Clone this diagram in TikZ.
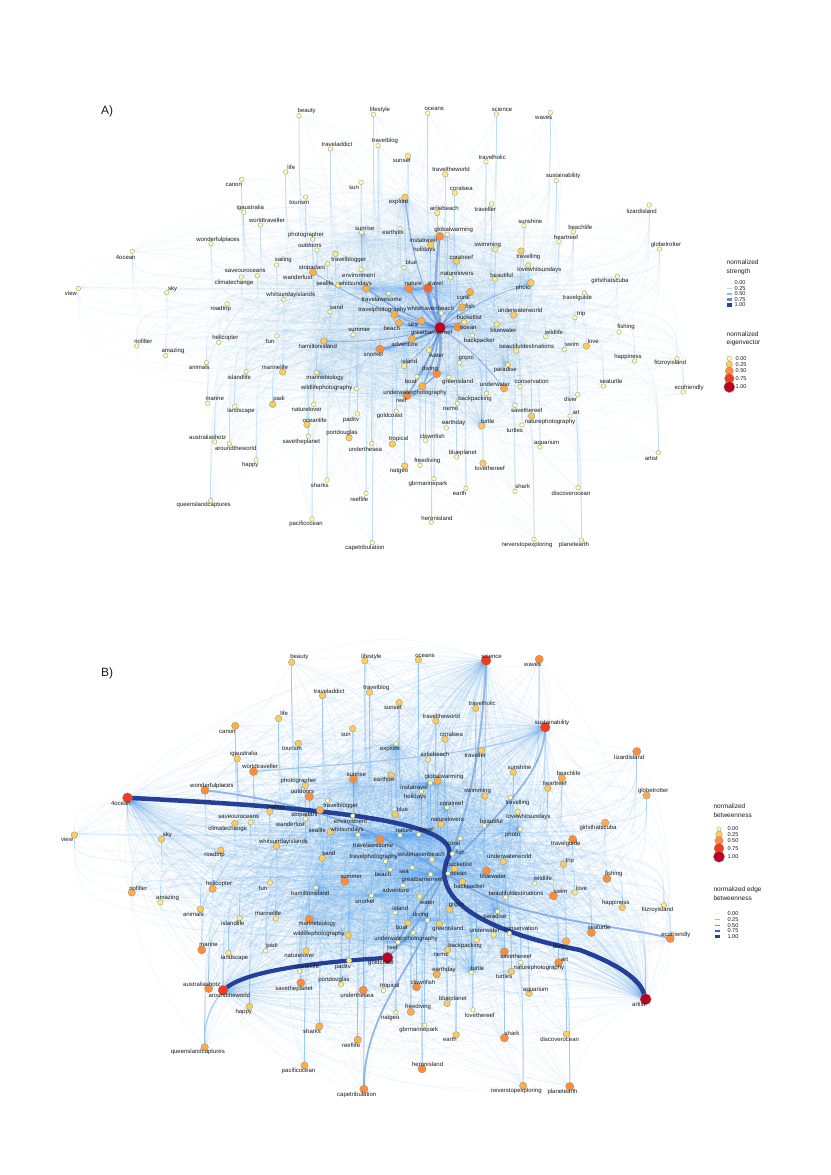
\documentclass[tikz,border=0pt]{standalone}
\usepackage{fontspec}
\setmainfont{Liberation Sans}
\usetikzlibrary{calc}
\pgfdeclarelayer{back}
\pgfdeclarelayer{bg}
\pgfdeclarelayer{mid}
\pgfsetlayers{back,bg,mid,main}
\definecolor{c0}{HTML}{FFFFB2}
\definecolor{c1}{HTML}{FEE98A}
\definecolor{c2}{HTML}{FECC5C}
\definecolor{c3}{HTML}{FDAD4A}
\definecolor{c4}{HTML}{FD8D3C}
\definecolor{c5}{HTML}{F6642E}
\definecolor{c6}{HTML}{F03B20}
\definecolor{c7}{HTML}{BD0026}
\definecolor{nodeline}{HTML}{8F8F78}
\definecolor{hazeblue}{HTML}{5AA8F0}
\definecolor{strongA}{HTML}{4A7FD6}
\definecolor{eb1}{HTML}{93C1F0}
\definecolor{eb2}{HTML}{6A9AE0}
\definecolor{eb3}{HTML}{3E64BE}
\definecolor{eb4}{HTML}{243F98}
\definecolor{txt}{HTML}{1C1C1C}

\def\nodelist{beauty/299.0/115.7/306.7/110.7/0/2,
lifestyle/373.3/114.3/380.0/110.0/0/2,
oceans/427.7/113.3/434.3/109.0/0/2,
science/496.3/114.0/502.0/109.7/0/6,
waves/550.3/112.7/543.7/118.3/0/4,
traveladdict/330.3/149.0/337.0/144.7/0/2,
travelblog/378.0/145.7/385.0/141.0/0/2,
sunset/408.0/156.0/401.7/161.0/1/2,
travelholic/486.0/161.7/492.3/157.3/0/2,
traveltheworld/445.3/174.3/451.0/169.7/1/2,
life/285.7/172.0/291.3/167.3/0/2,
canon/241.7/179.3/233.7/185.0/0/3,
sun/361.0/182.3/354.0/188.0/0/2,
tourism/305.7/197.0/299.3/202.0/0/2,
sustainability/556.3/180.7/563.3/176.3/0/6,
coralsea/454.7/192.7/461.3/188.3/1/2,
explore/405.0/197.3/398.7/202.3/2/0,
airliebeach/437.3/213.0/444.3/208.3/1/1,
traveller/491.7/204.0/485.3/209.3/0/2,
igaustralia/243.7/212.3/250.3/207.7/0/2,
worldtraveller/260.3/225.0/267.0/220.3/0/4,
lizardisland/649.3/205.0/641.7/211.0/0/4,
sunrise/361.7/232.3/364.7/228.0/0/4,
photographer/312.7/239.0/306.0/234.7/0/2,
earthpix/400.0/228.7/393.0/233.3/0/2,
sunshine/524.0/225.7/530.3/221.0/0/2,
beachlife/573.3/231.7/580.3/227.3/0/3,
globalwarming/447.3/234.3/453.7/230.3/0/3,
instatravel/439.7/236.3/423.3/240.7/4/0,
holidays/430.7/245.0/424.3/250.3/2/0,
heartreef/559.0/241.7/566.0/237.3/0/2,
wonderfulplaces/211.0/243.7/218.0/239.7/0/4,
outdoors/317.0/250.0/310.0/245.3/0/4,
4ocean/132.3/251.3/125.7/257.0/0/6,
travelblogger/335.3/254.0/348.7/259.7/1/0,
globetrotter/659.3/249.0/666.0/244.7/0/3,
swimming/495.3/249.3/487.7/244.7/1/2,
travelling/521.0/251.0/528.3/256.7/2/0,
sailing/276.7/265.0/283.3/260.0/0/2,
coralreef/456.7/261.0/461.3/257.0/2/0,
stopadani/327.7/263.7/312.0/268.0/0/3,
wanderlust/313.0/272.3/297.7/277.7/3/0,
environment/361.0/269.3/358.7/275.3/0/0,
blue/404.0/267.7/411.3/262.7/0/2,
lovewhitsundays/528.3/265.3/539.3/270.0/1/1,
naturelovers/450.7/277.7/457.0/273.3/0/2,
beautiful/494.7/279.3/501.7/275.3/1/0,
girlsthatscuba/617.3/276.3/610.0/281.0/0/3,
saveouroceans/257.3/275.7/245.3/270.7/0/1,
climatechange/241.3/277.0/234.0/282.7/0/2,
sealife/338.3/285.3/325.0/283.7/1/2,
whitsundays/366.3/288.3/355.3/283.7/3/0,
view/78.3/288.5/71.0/293.3/0/2,
sky/166.7/292.7/172.7/288.7/0/2,
nature/409.0/288.7/413.3/284.0/4/0,
travel/428.0/288.0/435.7/283.0/5/0,
photo/531.0/282.7/523.3/288.0/2/0,
coral/470.0/292.0/463.3/297.0/3/0,
travelguide/584.3/293.0/577.3/297.7/0/4,
whitsundayislands/283.7/299.7/290.7/295.3/0/2,
travelawesome/388.7/293.3/381.7/299.3/0/4,
roadtrip/227.0/304.0/220.7/308.7/0/2,
sand/330.0/311.7/336.7/307.0/0/2,
travelphotography/394.3/314.7/382.3/310.3/3/0,
whitehavenbeach/441.3/313.0/430.7/308.3/0/1,
fish/462.0/307.3/470.0/306.3/3/0,
underwaterworld/513.7/315.0/520.0/310.3/2/2,
trip/575.0/317.7/581.3/314.0/0/2,
bucketlist/464.3/322.3/469.3/317.7/1/2,
greatbarrierreef/440.0/327.7/431.7/333.3/7/0,
ocean/457.7/327.0/468.3/327.7/4/0,
sea/421.3/321.0/413.0/325.0/3/0,
beach/399.0/323.0/391.7/328.3/3/0,
bluewater/496.7/324.3/503.3/330.0/1/4,
wildlife/545.7/336.7/554.0/332.0/0/0,
summer/353.0/334.7/359.3/330.0/0/4,
backpacker/472.3/335.3/479.3/340.7/0/2,
adventure/412.0/339.0/404.7/344.0/3/0,
hamiltonisland/323.7/341.0/317.7/346.7/2/0,
snorkel/380.0/349.0/373.3/354.7/4/0,
beautifuldestinations/516.3/350.7/526.7/346.7/1/0,
water/429.0/350.0/436.7/356.0/1/1,
gopro/459.3/362.7/466.3/358.7/0/2,
island/404.0/366.0/409.3/361.7/1/0,
paradise/508.0/365.0/505.3/370.3/1/0,
diving/436.7/373.7/430.0/368.7/4/0,
marinebiology/316.7/372.7/325.0/377.7/0/4,
boat/417.0/376.7/410.7/381.0/0/2,
greenisland/449.0/377.3/457.7/382.3/0/2,
underwater/504.0/388.3/495.0/384.3/3/1,
conservation/520.0/386.7/531.7/381.7/0/0,
underwaterphotography/422.3/386.3/415.0/392.7/3/0,
wildlifephotography/356.3/388.7/326.7/387.7/0/2,
reef/407.0/395.7/401.3/400.7/4/0,
backpacking/486.7/393.3/475.0/399.3/0/1,
nemo/457.5/403.3/450.7/408.7/0/2,
naturelover/313.7/404.3/306.7/409.3/0/2,
savethereef/515.0/405.3/526.7/410.3/0/4,
paditv/357.3/414.0/351.0/420.3/0/1,
goldcoast/396.3/411.3/389.7/416.3/0/7,
oceanlife/307.0/424.5/314.7/420.0/2/0,
diver/577.7/394.7/570.7/399.7/0/3,
art/570.0/416.0/576.0/412.7/0/4,
naturephotography/531.7/416.0/550.0/421.5/2/0,
earthday/446.3/428.0/453.7/423.3/0/3,
turtle/481.7/426.0/487.7/421.7/2/0,
nofilter/136.7/346.0/143.3/341.7/0/3,
amazing/165.7/355.7/173.0/351.0/0/1,
helicopter/218.7/342.3/225.3/337.7/0/3,
fun/277.0/336.0/270.0/341.7/0/1,
animals/206.3/362.7/199.3/367.7/0/2,
islandlife/246.0/371.7/239.3/377.3/0/1,
marinelife/282.7/372.0/275.0/367.0/2/1,
marine/207.7/403.3/214.7/398.3/0/4,
landscape/234.7/406.3/241.0/411.3/0/1,
padi/272.7/404.3/279.0/399.0/2/0,
australiashotz/214.7/442.0/207.7/437.7/0/4,
aroundtheworld/229.3/443.7/235.7/448.7/0/6,
savetheplanet/308.3/436.3/301.3/442.0/0/4,
portdouglas/349.0/437.7/342.0/433.3/2/1,
underthesea/371.7/443.7/365.3/449.0/0/4,
happy/256.0/460.0/250.3/465.0/0/2,
sharks/327.0/480.0/319.7/485.3/0/3,
reeflife/366.0/493.3/359.3/499.0/0/3,
queenslandcaptures/210.7/500.7/203.7/505.3/0/3,
pacificocean/312.0/519.0/306.0/524.0/0/3,
capetribulation/372.3/542.7/365.0/548.3/0/4,
fishing/619.0/332.0/626.0/327.0/0/4,
love/586.3/346.0/593.3/341.7/2/1,
swim/564.7/349.3/572.0/344.7/0/4,
happiness/634.7/361.0/628.0/356.7/0/2,
fitzroyisland/677.0/358.7/670.3/363.3/0/1,
seaturtle/603.3/386.0/611.0/381.3/0/4,
ecofriendly/683.3/392.0/689.0/388.0/0/4,
turtles/522.0/425.0/514.7/430.3/0/2,
tropical/392.3/444.0/398.7/439.3/2/0,
clownfish/425.7/440.3/432.3/436.0/0/4,
aquarium/540.0/447.0/546.7/443.0/0/2,
blueplanet/456.7/457.0/462.7/452.7/0/2,
artist/658.3/452.7/651.3/458.0/0/7,
freediving/420.0/465.3/427.3/460.7/0/3,
natgeo/404.7/466.0/399.0/471.3/2/0,
lovethereef/483.0/463.3/490.0/468.7/2/0,
gbrmarinepark/434.0/478.7/428.0/483.7/0/0,
earth/466.0/488.3/459.7/493.0/0/2,
shark/515.0/491.3/522.7/486.7/0/4,
discoverocean/578.0/487.7/571.0/493.0/0/2,
heronisland/431.3/522.3/437.0/518.3/0/4,
neverstopexploring/534.0/539.3/527.0/544.7/0/3,
planetearth/581.3/540.0/574.0/545.3/0/4}

\def\hubsP{greatbarrierreef,travel,diving,ocean,snorkel,whitehavenbeach,nature,reef,instatravel,whitsundays}
\def\hubsS{explore,photo,hamiltonisland,turtle,paradise,sunrise,coralreef,marinebiology}
\def\hubsB{4ocean,artist,sustainability,science,aroundtheworld}

\newcommand\placenodes[5]{%
  \foreach \n/\x/\y/\lx/\ly/\la/\lb in \nodelist {%
    \ifnum#5=1\relax\edef\lv{\la}\else\edef\lv{\lb}\fi
    \pgfmathsetmacro\rr{{2.3,2.8,3.3,3.7,4.1,4.6,5.0,5.6}[\lv]}%
    \pgfmathsetmacro\dd{2*\rr}%
    \node[nd, fill=c\lv, minimum size=\dd pt] (#1-\n) at ({#2+#3*\x},{#4+\y}) {};
  }%
  \foreach \n/\x/\y/\lx/\ly/\la/\lb in \nodelist {%
    \node[lbl] (#1-\n-t) at ({#2+#3*\lx},{#4+\ly}) {\n};
  }%
}
\newcommand\hazevert[3]{%
  \foreach \n/\x/\y/\lx/\ly/\la/\lb in \nodelist {%
    \foreach \h in #2 {%
      \edef\aa{\n}\edef\bb{\h}%
      \ifx\aa\bb\else
        \draw[#3] (#1-\n) .. controls ($(#1-\n)!0.7!(#1-\n |- #1-\h)$) .. (#1-\h);%
      \fi
    }%
  }%
}
\newcommand\hazebend[3]{%
  \foreach \n/\x/\y/\lx/\ly/\la/\lb in \nodelist {%
    \foreach \h in #2 {%
      \edef\aa{\n}\edef\bb{\h}%
      \ifx\aa\bb\else
        \draw[#3] (#1-\n) to[bend left=22] (#1-\h);%
      \fi
    }%
  }%
}

\begin{document}
\begin{tikzpicture}[x=1pt,y=-1pt,
  nd/.style={circle, draw=nodeline, line width=0.3pt, inner sep=0pt},
  lbl/.style={font=\fontsize{6}{6}\selectfont, text=txt, inner sep=0pt},
  leg/.style={font=\fontsize{6.5}{8.6}\selectfont, text=txt, inner sep=0pt, anchor=north west, align=left},
  legn/.style={font=\fontsize{5.6}{6}\selectfont, text=txt, inner sep=0pt, anchor=west},
  panel/.style={font=\fontsize{12}{12}\selectfont, text=txt, inner sep=0pt},
  hzA/.style={draw=hazeblue, line width=0.5pt, opacity=0.065},
  hzAs/.style={draw=hazeblue, line width=0.5pt, opacity=0.055},
  hzB/.style={draw=hazeblue, line width=0.5pt, opacity=0.12},
  hzBs/.style={draw=hazeblue, line width=0.5pt, opacity=0.10},
  strong/.style={draw=strongA, opacity=0.5, line cap=round},
  ebw/.style={line cap=round}
]
\useasboundingbox (0,0) rectangle (830,1175);
\begin{pgfonlayer}{back}
\fill[white] (0,0) rectangle (830,1175);
\end{pgfonlayer}

\node[panel] (labA) at (107,111) {A)};
\node[panel] (labB) at (107,673) {B)};

% nodes
\placenodes{A}{0}{1}{0}{1}
\placenodes{B}{-2.83}{0.985}{546.5}{2}

% haze edges
\begin{pgfonlayer}{bg}
\hazevert{A}{\hubsP}{hzA}
\hazebend{A}{\hubsS}{hzAs}
\hazevert{B}{\hubsP}{hzB}
\hazebend{B}{\hubsS}{hzBs}
\hazebend{B}{\hubsB}{hzBs}
\end{pgfonlayer}

% strong edges panel A
\begin{pgfonlayer}{mid}
\foreach \t/\w in {travel/3.2,diving/3.0,instatravel/2.4,ocean/2.2,whitehavenbeach/2.0,snorkel/2.0,beach/1.6,nature/1.6,whitsundays/1.5,underwaterphotography/1.6,reef/1.5,sea/1.4,adventure/1.3,travelphotography/1.4,coral/1.2,fish/1.2,water/1.2,explore/1.0,boat/1.0,underwater/1.0,island/0.8,hamiltonisland/0.8,wanderlust/0.9,photo/0.8,bucketlist/0.8}
  \draw[strong, line width=\w pt] (A-greatbarrierreef) to[bend left=8] (A-\t);
\draw[strong, line width=1pt] (A-travel) to[bend left=8] (A-nature);
\draw[strong, line width=1pt] (A-travel) to[bend left=8] (A-whitehavenbeach);
\draw[strong, line width=1pt] (A-diving) to[bend left=8] (A-underwaterphotography);
\draw[strong, line width=0.8pt] (A-diving) to[bend left=8] (A-reef);

% edge betweenness panel B
\draw[eb1, ebw, line width=1.2pt, opacity=0.8] (B-worldtraveller) .. controls (400,760) and (500,752) .. (B-sustainability);
\draw[eb1, ebw, line width=1.2pt, opacity=0.8] (B-queenslandcaptures) to[bend left=18] (B-aroundtheworld);
\draw[eb2, ebw, line width=1.8pt, opacity=0.7] (B-wonderfulplaces) .. controls (400,815) and (430,880) .. (513,907) .. controls (580,925) and (640,930) .. (B-ecofriendly);
\draw[eb2, ebw, line width=2pt, opacity=0.65] (B-science) .. controls (480,800) and (445,900) .. (B-goldcoast);
\draw[eb2, ebw, line width=1.8pt, opacity=0.65] (B-sustainability) .. controls (540,800) and (440,850) .. (B-reef);
\draw[eb2, ebw, line width=1.8pt, opacity=0.7] (B-capetribulation) .. controls (365,1010) and (420,960) .. (B-diving);
\draw[eb4, ebw, line width=4.5pt] (B-4ocean) .. controls (330,808) and (470,822) .. (447,860) .. controls (430,905) and (500,935) .. (580,950) .. controls (620,965) and (640,980) .. (B-artist);
\draw[eb4, ebw, line width=4.2pt] (B-aroundtheworld) .. controls (250,970) and (320,962) .. (B-goldcoast);
\end{pgfonlayer}

% legend A
\node[leg] (legA1) at (726.5,259.8) {normalized\\strength};
\foreach \yy/\w/\c/\t [count=\i] in {282.7/0.4/E8EEF6/0.00,288.7/0.9/C5D3EA/0.25,293.7/1.6/9DB3DC/0.50,299.3/2.6/6A8BCB/0.75,304.7/3.6/2C4496/1.00}{
  \definecolor{tmp}{HTML}{\c}
  \coordinate (lsa\i) at (727,\yy);
  \coordinate (lsb\i) at (732,\yy);
  \draw[draw=tmp, line width=\w pt] (lsa\i) -- (lsb\i);
  \node[legn] (lst\i) at (734.5,\yy) {\t};
}
\node[leg] (legA2) at (726.5,331.3) {normalized\\eigenvector};
\foreach \yy/\r/\c/\t [count=\i] in {358.3/2.2/c0/0.00,364.3/3.2/c2/0.25,371.0/4.0/c4/0.50,378.5/4.8/c6/0.75,387.0/5.5/c7/1.00}{
  \node[nd, fill=\c, minimum size=2*\r pt] (lec\i) at (729.3,\yy) {};
  \node[legn] (let\i) at (735.5,\yy) {\t};
}

% legend B
\node[leg] (legB1) at (713.3,803.8) {normalized\\betweenness};
\foreach \yy/\r/\c/\t [count=\i] in {829.0/2.2/c0/0.00,834.3/3.3/c2/0.25,840.7/4.1/c4/0.50,848.3/4.9/c6/0.75,856.7/5.6/c7/1.00}{
  \node[nd, fill=\c, minimum size=2*\r pt] (lbc\i) at (719,\yy) {};
  \node[legn] (lbt\i) at (727.3,\yy) {\t};
}
\node[leg] (legB2) at (713.3,886.5) {normalized edge\\betweenness};
\foreach \yy/\w/\c/\t [count=\i] in {913.3/0.4/E4EEF8/0.00,919.7/0.9/8FBFEE/0.25,925.3/1.6/5B8FD8/0.50,931.0/2.5/3A62B8/0.75,936.6/3.4/24419A/1.00}{
  \definecolor{tmp}{HTML}{\c}
  \coordinate (lea\i) at (715,\yy);
  \coordinate (leb\i) at (720,\yy);
  \draw[draw=tmp, line width=\w pt] (lea\i) -- (leb\i);
  \node[legn] (let\i) at (727.3,\yy) {\t};
}
\end{tikzpicture}
\end{document}
